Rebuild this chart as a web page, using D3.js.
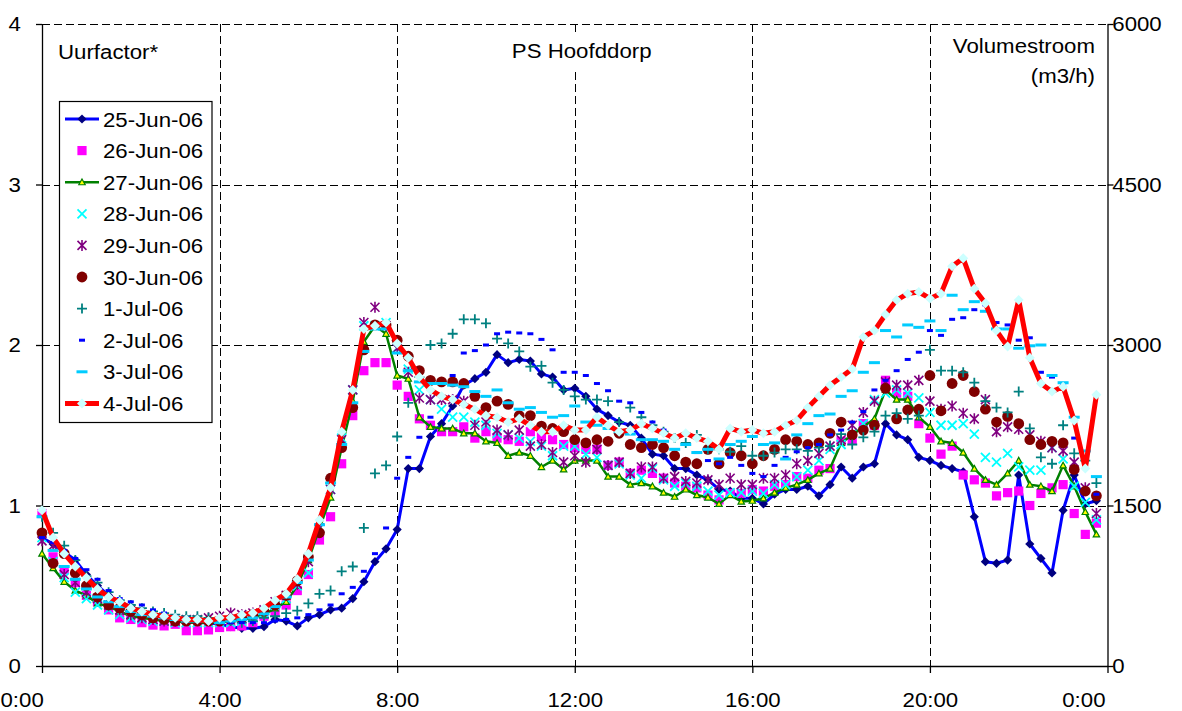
<!DOCTYPE html>
<html>
<head>
<meta charset="utf-8">
<script src="https://cdn.jsdelivr.net/npm/d3@7"></script>
<style>
  body { margin: 0; background: #fff; }
  svg text { font-family: "Liberation Sans", Arial, sans-serif; font-size: 21px; fill: #000; }
</style>
</head>
<body>
<svg id="chart" width="1182" height="711"></svg>
<script>
// Hour factors (Uurfactor) per quarter hour, PS Hoofddorp, 25 June - 4 July 2006
const dayLabels = ["25-Jun-06", "26-Jun-06", "27-Jun-06", "28-Jun-06", "29-Jun-06",
                   "30-Jun-06", "1-Jul-06", "2-Jul-06", "3-Jul-06", "4-Jul-06"];

const jun25 = [0.80,0.76,0.71,0.66,0.57,0.50,0.44,0.40,0.37,0.34,0.32,0.30,0.29,0.28,0.27,0.27,0.26,0.245,
  0.235,0.235,0.245,0.29,0.28,0.25,0.30,0.32,0.35,0.36,0.42,0.525,0.65,0.73,0.85,1.23,
  1.23,1.43,1.51,1.62,1.75,1.79,1.83,1.94,1.89,1.91,1.90,1.82,1.80,1.72,1.73,1.68,
  1.60,1.56,1.52,1.50,1.42,1.32,1.31,1.23,1.23,1.19,1.16,1.10,1.09,1.045,1.045,1.01,
  1.07,1.10,1.10,1.12,1.06,1.13,1.24,1.17,1.24,1.26,1.51,1.44,1.41,1.30,1.28,1.25,
  1.23,1.21,0.93,0.65,0.64,0.66,1.19,0.76,0.67,0.58,0.97,1.19,1.01,1.03];

const jun26 = [0.95,0.68,0.60,0.52,0.44,0.40,0.35,0.30,0.29,0.27,0.255,0.25,0.26,0.22,0.22,0.225,0.24,0.245,
  0.25,0.27,0.31,0.34,0.38,0.47,0.57,0.785,0.93,1.26,1.56,1.84,1.89,1.89,1.75,1.68,
  1.54,1.50,1.46,1.46,1.49,1.42,1.46,1.42,1.41,1.40,1.46,1.43,1.41,1.38,1.36,1.35,
  1.35,1.25,1.27,1.20,1.22,1.20,1.17,1.14,1.12,1.11,1.065,1.035,1.075,1.075,1.10,1.09,
  1.12,1.13,1.18,1.17,1.22,1.23,1.40,1.41,1.51,1.50,1.78,1.70,1.68,1.51,1.42,1.32,
  1.37,1.19,1.16,1.14,1.06,1.08,1.09,1.00,1.075,1.11,1.13,0.95,0.82,0.89];

const jun27 = [0.70,0.61,0.525,0.47,0.44,0.39,0.37,0.34,0.31,0.30,0.29,0.28,0.28,0.27,0.27,0.27,0.27,0.28,
  0.29,0.30,0.32,0.36,0.40,0.50,0.66,0.86,1.05,1.36,1.65,2.02,2.12,2.07,1.81,1.79,
  1.55,1.49,1.48,1.48,1.45,1.45,1.40,1.39,1.31,1.33,1.31,1.24,1.28,1.225,1.28,1.28,
  1.28,1.18,1.18,1.13,1.14,1.12,1.08,1.055,1.10,1.065,1.05,1.01,1.065,1.025,1.03,1.045,
  1.08,1.11,1.13,1.16,1.20,1.23,1.39,1.44,1.49,1.54,1.72,1.66,1.66,1.55,1.49,1.40,
  1.39,1.33,1.23,1.16,1.13,1.20,1.28,1.13,1.12,1.09,1.25,1.12,0.96,0.82];

const jun28 = [0.80,0.65,0.55,0.46,0.42,0.38,0.35,0.32,0.30,0.29,0.28,0.28,0.27,0.27,0.27,0.27,0.27,0.27,
  0.28,0.30,0.33,0.38,0.42,0.50,0.58,0.86,1.10,1.42,1.72,2.12,2.12,2.14,1.98,1.85,
  1.72,1.66,1.60,1.55,1.55,1.52,1.50,1.45,1.44,1.42,1.40,1.37,1.31,1.37,1.37,1.32,
  1.30,1.25,1.26,1.19,1.17,1.23,1.16,1.12,1.14,1.12,1.09,1.065,1.08,1.08,1.09,1.075,
  1.13,1.13,1.18,1.22,1.28,1.35,1.38,1.45,1.51,1.66,1.70,1.72,1.70,1.67,1.58,1.50,
  1.50,1.51,1.445,1.30,1.27,1.325,1.24,1.22,1.22,1.36,1.29,1.12,1.02,0.91];

const jun29 = [0.78,0.75,0.57,0.52,0.46,0.42,0.38,0.35,0.32,0.30,0.29,0.28,0.28,0.29,0.29,0.30,0.31,0.33,
  0.32,0.33,0.35,0.40,0.44,0.51,0.65,0.86,1.10,1.41,1.72,2.14,2.235,2.12,1.98,1.83,
  1.67,1.66,1.66,1.66,1.65,1.50,1.52,1.47,1.44,1.47,1.37,1.38,1.33,1.27,1.31,1.27,
  1.35,1.25,1.27,1.20,1.24,1.24,1.17,1.18,1.15,1.14,1.16,1.13,1.17,1.13,1.13,1.17,
  1.17,1.19,1.26,1.28,1.325,1.37,1.41,1.50,1.58,1.65,1.77,1.75,1.75,1.78,1.65,1.60,
  1.62,1.575,1.54,1.66,1.46,1.49,1.475,1.44,1.40,1.36,1.34,1.27,1.11,0.95];

const jun30 = [0.83,0.64,0.70,0.58,0.50,0.43,0.38,0.36,0.34,0.32,0.30,0.29,0.28,0.28,0.28,0.28,0.28,0.29,
  0.30,0.32,0.34,0.38,0.44,0.53,0.68,0.83,1.17,1.36,1.61,1.97,2.125,2.125,2.03,1.93,
  1.84,1.78,1.77,1.77,1.76,1.68,1.61,1.65,1.63,1.56,1.56,1.495,1.48,1.46,1.41,1.39,
  1.41,1.40,1.45,1.38,1.36,1.38,1.36,1.31,1.27,1.26,1.35,1.26,1.33,1.31,1.26,1.31,
  1.35,1.41,1.40,1.38,1.39,1.45,1.52,1.44,1.47,1.50,1.73,1.54,1.595,1.60,1.81,1.59,
  1.76,1.81,1.71,1.60,1.52,1.555,1.51,1.41,1.38,1.40,1.39,1.225,1.09,1.06];

const jul01 = [0.93,0.83,0.75,0.66,0.56,0.52,0.46,0.41,0.38,0.36,0.34,0.33,0.32,0.31,0.31,0.30,0.29,0.28,
  0.27,0.28,0.30,0.31,0.33,0.345,0.39,0.45,0.47,0.59,0.62,0.86,1.20,1.25,1.43,1.64,
  1.80,2.00,2.01,2.07,2.16,2.16,2.135,2.04,2.01,1.96,1.865,1.87,1.765,1.72,1.68,1.66,
  1.66,1.65,1.52,1.61,1.55,1.50,1.46,1.42,1.39,1.44,1.35,1.35,1.335,1.37,1.31,1.31,
  1.33,1.35,1.35,1.34,1.36,1.37,1.445,1.38,1.425,1.46,1.56,1.575,1.54,1.56,1.97,1.84,
  1.84,1.83,1.765,1.65,1.61,1.58,1.71,1.48,1.30,1.26,1.50,1.325,1.28,1.14];

const jul02 = [0.80,0.77,0.72,0.67,0.60,0.54,0.47,0.42,0.40,0.38,0.35,0.33,0.31,0.30,0.29,0.28,0.27,0.27,
  0.27,0.27,0.27,0.28,0.29,0.30,0.32,0.35,0.38,0.45,0.49,0.59,0.70,0.86,1.17,1.30,
  1.425,1.55,1.68,1.81,1.95,1.965,2.00,2.07,2.08,2.075,2.07,2.035,1.97,1.83,1.83,1.81,
  1.76,1.715,1.65,1.64,1.58,1.52,1.47,1.42,1.38,1.33,1.28,1.26,1.30,1.25,1.20,1.18,
  1.25,1.30,1.335,1.36,1.38,1.44,1.47,1.52,1.585,1.72,1.78,1.84,1.91,1.955,2.09,2.06,
  2.16,2.17,2.22,2.25,2.14,2.125,2.03,2.045,1.83,1.80,1.76,1.42,1.27,1.07];

const jul03 = [0.93,0.72,0.62,0.54,0.48,0.43,0.40,0.37,0.34,0.32,0.31,0.30,0.29,0.28,0.28,0.28,0.27,0.28,
  0.29,0.30,0.325,0.37,0.43,0.52,0.66,0.88,1.14,1.38,1.64,1.96,2.10,2.10,1.95,1.84,
  1.77,1.76,1.76,1.75,1.74,1.71,1.68,1.72,1.64,1.60,1.61,1.58,1.55,1.56,1.62,1.52,
  1.50,1.48,1.46,1.445,1.41,1.41,1.40,1.35,1.38,1.33,1.35,1.29,1.38,1.40,1.43,1.38,
  1.39,1.29,1.44,1.51,1.56,1.57,1.68,1.715,1.83,1.89,2.09,2.05,2.125,2.11,2.15,2.09,
  2.31,2.22,2.27,2.21,2.10,2.10,1.98,1.995,2.00,1.81,1.765,1.55,1.34,1.18];

const jul04 = [0.97,0.80,0.70,0.62,0.55,0.48,0.43,0.40,0.36,0.34,0.32,0.31,0.30,0.29,0.29,0.28,0.30,0.30,
  0.32,0.33,0.36,0.41,0.45,0.54,0.70,0.91,1.11,1.46,1.72,2.10,2.12,2.14,2.01,1.92,
  1.80,1.72,1.68,1.66,1.63,1.60,1.56,1.55,1.52,1.54,1.50,1.46,1.46,1.50,1.47,1.47,
  1.55,1.50,1.46,1.47,1.51,1.48,1.45,1.42,1.45,1.42,1.40,1.35,1.48,1.46,1.47,1.45,
  1.46,1.50,1.53,1.61,1.68,1.75,1.80,1.85,2.05,2.09,2.19,2.28,2.32,2.33,2.29,2.32,
  2.49,2.54,2.35,2.26,2.09,1.99,2.28,1.92,1.76,1.71,1.74,1.53,1.23,1.69];

// Quarter-hour time stamps (hours since midnight)
const hours = d3.range(96).map(i => i / 4);

// Axis ticks and labels
const hourTicks = [0, 4, 8, 12, 16, 20, 24];
const hourTickLabels = ["0:00", "4:00", "8:00", "12:00", "16:00", "20:00", "0:00"];
const factorTicks = [0, 1, 2, 3, 4];
const flowTicks = [0, 1500, 3000, 4500, 6000];

// Chart titles
const leftTitle = "Uurfactor*";
const mainTitle = "PS Hoofddorp";
const rightTitle = ["Volumestroom", "(m3/h)"];

// Series styling
const seriesStyle = [
  { line: "#0000FF", lw: 3, marker: { type: "diamond", r: 4.6, color: "#000080" } },
  { line: null, marker: { type: "square", r: 4.6, color: "#FF00FF" } },
  { line: "#008000", lw: 2.5, marker: { type: "triangle", r: 3.2, color: "#FFFF00", stroke: "#008000" } },
  { line: null, marker: { type: "cross", r: 4.5, color: "#00FFFF", sw: 1.8 } },
  { line: null, marker: { type: "star", r: 4.5, color: "#800080", sw: 1.6 } },
  { line: null, marker: { type: "circle", r: 5.4, color: "#800000" } },
  { line: null, marker: { type: "plus", r: 5, color: "#008080", sw: 1.8 } },
  { line: null, marker: { type: "dash", w: 6, h: 3, color: "#0000FF" } },
  { line: null, marker: { type: "dash", w: 11, h: 3, color: "#00CCFF" } },
  { line: "#FF0000", lw: 5, marker: { type: "diamond", r: 5, color: "#CCFFFF" } }
];
const seriesValues = [jun25, jun26, jun27, jun28, jun29, jun30, jul01, jul02, jul03, jul04];

const TEXT_STRETCH = 1.06;

const svg = d3.select("#chart");
svg.append("rect").attr("width", 1182).attr("height", 711).attr("fill", "#fff");

const plotLeft = 42, plotRight = 1107.5, plotTop = 24, plotBottom = 666;
const x = d3.scaleLinear().domain([0, 24]).range([plotLeft, plotRight]);
const y = d3.scaleLinear().domain([0, 4]).range([plotBottom, plotTop]);
const yFlow = d3.scaleLinear().domain([0, 6000]).range([plotBottom, plotTop]);

// Dashed grid
const grid = svg.append("g").attr("stroke", "#000").attr("stroke-width", 1)
  .attr("stroke-dasharray", "8,4").attr("shape-rendering", "crispEdges");
grid.selectAll("line.h").data(factorTicks.filter(d => d > 0)).join("line")
  .attr("x1", plotLeft).attr("x2", plotRight)
  .attr("y1", d => Math.round(y(d)) + 0.5).attr("y2", d => Math.round(y(d)) + 0.5);
grid.selectAll("line.v").data(hourTicks.filter(d => d > 0 && d < 24)).join("line")
  .attr("y1", plotTop).attr("y2", plotBottom)
  .attr("x1", d => Math.round(x(d)) + 0.5).attr("x2", d => Math.round(x(d)) + 0.5);

// Axes
function styleAxis(g) {
  g.select(".domain").attr("stroke", "#000").attr("stroke-width", 1.3);
  g.selectAll(".tick line").attr("stroke", "#000").attr("stroke-width", 1.3);
  g.selectAll("text").attr("font-size", 21).attr("font-family", '"Liberation Sans", Arial, sans-serif')
    .attr("fill", "#000").attr("transform", `scale(${TEXT_STRETCH},1)`);
}

svg.append("g").attr("transform", `translate(${plotLeft},0)`)
  .call(d3.axisLeft(y).tickValues(factorTicks).tickFormat(d3.format("d")).tickSizeInner(6).tickSizeOuter(0).tickPadding(14))
  .call(styleAxis);

svg.append("g").attr("transform", `translate(${plotRight},0)`)
  .call(d3.axisRight(yFlow).tickValues(flowTicks).tickFormat(d3.format("d")).tickSizeInner(6).tickSizeOuter(0).tickPadding(-1.5))
  .call(styleAxis);

const xAxisG = svg.append("g").attr("transform", `translate(0,${plotBottom})`)
  .call(d3.axisBottom(x).tickValues(hourTicks).tickFormat((d, i) => hourTickLabels[i])
    .tickSizeInner(7).tickSizeOuter(0).tickPadding(19))
  .call(styleAxis);
// Edge labels are pulled inward so they stay inside the chart area
xAxisG.selectAll(".tick text").each(function (d, i) {
  const t = d3.select(this);
  if (i === 0) t.attr("text-anchor", "start").attr("x", (0 - x(0)) / TEXT_STRETCH);
  if (i === hourTicks.length - 1) t.attr("text-anchor", "end").attr("x", (1105 - x(24)) / TEXT_STRETCH);
});

// Marker shapes
function addMarker(g, m) {
  const r = m.r;
  switch (m.type) {
    case "diamond":
      g.append("path").attr("d", `M0,${-r}L${r},0L0,${r}L${-r},0Z`).attr("fill", m.color);
      break;
    case "square":
      g.append("rect").attr("x", -r).attr("y", -r).attr("width", 2 * r).attr("height", 2 * r).attr("fill", m.color);
      break;
    case "triangle":
      g.append("path").attr("d", `M0,${-r}L${r},${r * 0.8}L${-r},${r * 0.8}Z`)
        .attr("fill", m.color).attr("stroke", m.stroke).attr("stroke-width", 1.2);
      break;
    case "cross":
      g.append("path").attr("d", `M${-r},${-r}L${r},${r}M${-r},${r}L${r},${-r}`)
        .attr("stroke", m.color).attr("stroke-width", m.sw).attr("fill", "none");
      break;
    case "star":
      g.append("path").attr("d", `M${-r},${-r}L${r},${r}M${-r},${r}L${r},${-r}M0,${-r - 1}L0,${r + 1}`)
        .attr("stroke", m.color).attr("stroke-width", m.sw).attr("fill", "none");
      break;
    case "circle":
      g.append("circle").attr("r", r).attr("fill", m.color);
      break;
    case "plus":
      g.append("path").attr("d", `M${-r},0L${r},0M0,${-r}L0,${r}`)
        .attr("stroke", m.color).attr("stroke-width", m.sw).attr("fill", "none");
      break;
    case "dash":
      g.append("rect").attr("x", -m.w / 2).attr("y", -m.h / 2).attr("width", m.w).attr("height", m.h).attr("fill", m.color);
      break;
  }
}

// Series: drawn in date order, later days on top
const plot = svg.append("g");
seriesValues.forEach((vals, k) => {
  const st = seriesStyle[k];
  const pts = vals.map((v, i) => ({ t: hours[i], v }));
  const g = plot.append("g").attr("class", "series");
  if (st.line) {
    g.append("path").datum(pts)
      .attr("d", d3.line().x(d => x(d.t)).y(d => y(d.v)))
      .attr("fill", "none").attr("stroke", st.line).attr("stroke-width", st.lw)
      .attr("stroke-linejoin", "round").attr("stroke-linecap", "round");
  }
  g.selectAll("g.pt").data(pts).join("g").attr("class", "pt")
    .attr("transform", d => `translate(${x(d.t)},${y(d.v)})`)
    .each(function () { addMarker(d3.select(this), st.marker); });
});

// Titles
function label(x0, y0, str, anchor) {
  svg.append("text").attr("transform", `translate(${x0},${y0}) scale(${TEXT_STRETCH},1)`)
    .attr("text-anchor", anchor).text(str);
}
svg.append("rect").attr("x", 505).attr("y", 32).attr("width", 154).attr("height", 40).attr("fill", "#fff");
label(58, 59.3, leftTitle, "start");
label(581.7, 58.3, mainTitle, "middle");
label(1095, 53.3, rightTitle[0], "end");
label(1095, 82.5, rightTitle[1], "end");

// Legend
const legend = svg.append("g");
legend.append("rect").attr("x", 59.5).attr("y", 101.5).attr("width", 152.5).attr("height", 321)
  .attr("fill", "#fff").attr("stroke", "#000").attr("stroke-width", 1.2);
dayLabels.forEach((name, k) => {
  const st = seriesStyle[k];
  const cy = 119 + k * 31.6;
  const row = legend.append("g");
  if (st.line) {
    row.append("line").attr("x1", 65).attr("x2", 99).attr("y1", cy).attr("y2", cy)
      .attr("stroke", st.line).attr("stroke-width", st.lw);
  }
  addMarker(row.append("g").attr("transform", `translate(82,${cy})`), st.marker);
  row.append("text").attr("transform", `translate(103,${cy + 7.5}) scale(${TEXT_STRETCH},1)`).text(name);
});
</script>
</body>
</html>
